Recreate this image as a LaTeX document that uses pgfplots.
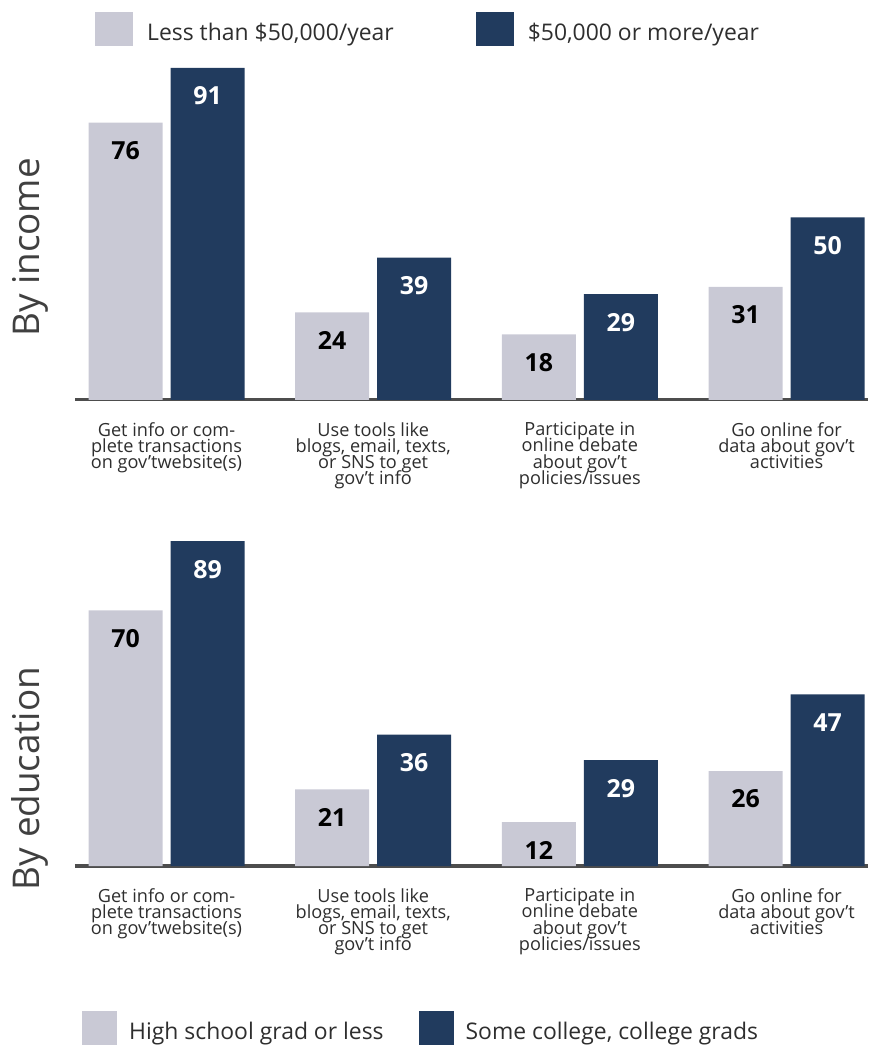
\documentclass[border=0pt]{standalone}
\usepackage{fontspec}
\setmainfont{Open Sans}
\usepackage{pgfplots}
\pgfplotsset{compat=1.18}
\definecolor{lightbar}{HTML}{C9C9D5}
\definecolor{darkbar}{HTML}{213B5E}
\definecolor{axisgray}{HTML}{4D4D4D}
\definecolor{textgray}{HTML}{2E2E2E}
\definecolor{labelgray}{HTML}{404040}
\setlength{\lineskiplimit}{-30pt}

\pgfplotsset{
  govbars/.style={
    scale only axis, width=793bp, height=365bp,
    xmin=-0.4427, xmax=3.394, ymin=0, ymax=100,
    ybar=8bp, bar width=74bp,
    axis x line=bottom, axis y line=left,
    x axis line style={-, draw=axisgray, line width=3bp},
    y axis line style={draw=none},
    ytick=\empty,
    xtick={0,1,2,3},
    major tick length=0pt,
    xticklabels={
      {Get info or com-\\plete transactions\\on gov'twebsite(s)},
      {Use tools like\\blogs, email, texts,\\or SNS to get\\gov't info},
      {Participate in\\online debate\\about gov't\\policies/issues},
      {Go online for\\data about gov't\\activities}},
    xticklabel style={align=center, font=\fontsize{18.2}{16.2}\selectfont, text=textgray, anchor=north, yshift=-19bp},
    clip=false,
    /pgf/number format/assume math mode=true,
    nodes near coords,
    every node near coord/.append style={anchor=center, yshift=-28bp, font=\fontsize{25}{25}\selectfont\bfseries},
    legend style={draw=none, fill=none, inner sep=0pt, legend columns=2, anchor=west,
      nodes={inner sep=0pt, text=textgray, font=\fontsize{23}{23}\selectfont},
      /tikz/every odd column/.append style={column sep=14bp},
      /tikz/every even column/.append style={column sep=82bp}},
    legend cell align=left,
    every axis y label/.style={rotate=90, anchor=center, font=\fontsize{37}{37}\selectfont, text=labelgray},
  },
  sqlegend/.style={legend image code/.code={\fill[##1] (0bp,-13bp) rectangle (#1,21bp);}},
}

\begin{document}
\begin{tikzpicture}
\useasboundingbox (0,0) rectangle (871bp,1045bp);

\begin{axis}[govbars, sqlegend=38bp, at={(75bp,645bp)}, anchor=south west,
    ylabel={By income},
    every axis y label/.append style={at={(axis description cs:-0.0567,0.418)}},
    legend style={at={(axis description cs:0.0252,1.0165)}}]
  \addplot[fill=lightbar, draw=none, every node near coord/.append style={text=black}]
    coordinates {(0,76) (1,24) (2,18) (3,31)};
  \addlegendentry{Less than \$50,000/year}
  \addplot[fill=darkbar, draw=none, every node near coord/.append style={text=white}]
    coordinates {(0,91) (1,39) (2,29) (3,50)};
  \addlegendentry{\$50,000 or more/year}
\end{axis}

\begin{axis}[govbars, sqlegend=35bp, at={(75bp,179bp)}, anchor=south west,
    ylabel={By education},
    every axis y label/.append style={at={(axis description cs:-0.0567,0.24)}},
    legend style={at={(axis description cs:0.0088,-0.4436)},
      /tikz/every odd column/.append style={column sep=12bp},
      /tikz/every even column/.append style={column sep=35bp}}]
  \addplot[fill=lightbar, draw=none, every node near coord/.append style={text=black}]
    coordinates {(0,70) (1,21) (2,12) (3,26)};
  \addlegendentry{High school grad or less}
  \addplot[fill=darkbar, draw=none, every node near coord/.append style={text=white}]
    coordinates {(0,89) (1,36) (2,29) (3,47)};
  \addlegendentry{Some college, college grads}
\end{axis}
\end{tikzpicture}
\end{document}
